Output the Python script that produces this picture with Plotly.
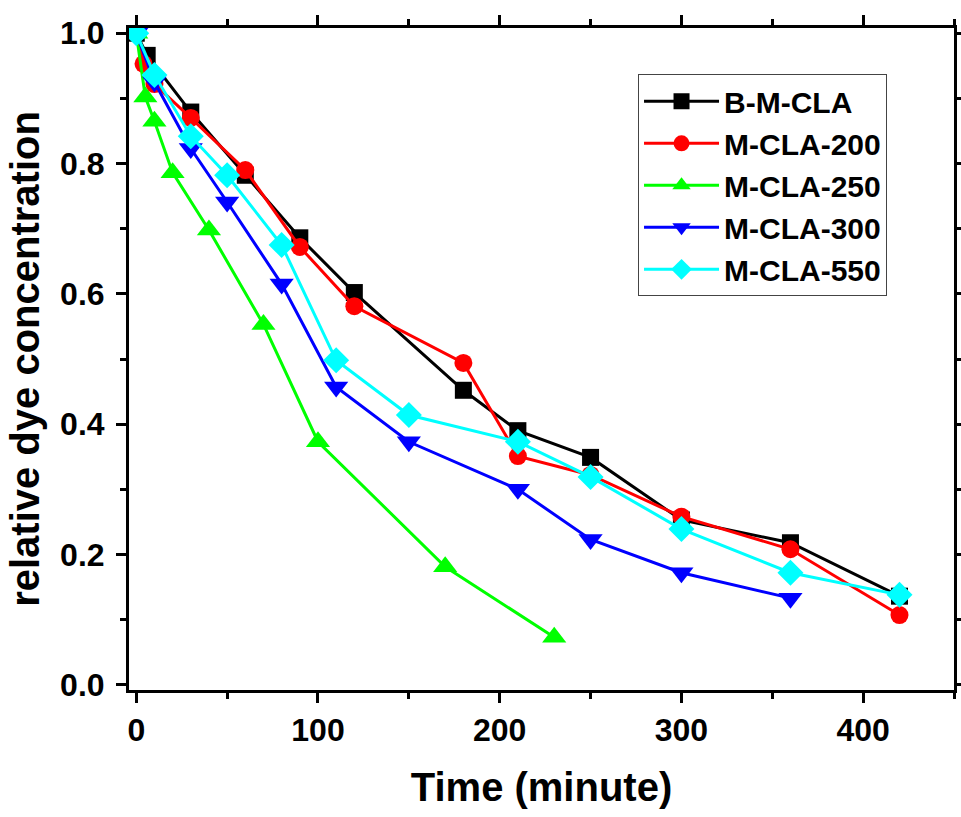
import plotly.graph_objects as go

# time (minute) and relative dye concentration
b_time = [0, 6, 30, 60, 90, 120, 180, 210, 250, 300, 360, 420]
b_conc = [1.0, 0.966, 0.879, 0.782, 0.686, 0.602, 0.452, 0.390, 0.349, 0.253, 0.218, 0.136]

m200_time = [0, 4, 10, 30, 60, 90, 120, 180, 210, 250, 300, 360, 420]
m200_conc = [1.0, 0.953, 0.922, 0.870, 0.790, 0.672, 0.581, 0.494, 0.351, 0.322, 0.258, 0.208, 0.107]

m250_time = [0, 5, 10, 20, 40, 70, 100, 170, 230]
m250_conc = [1.0, 0.902, 0.865, 0.786, 0.698, 0.553, 0.373, 0.181, 0.073]

m300_time = [0, 10, 30, 50, 80, 110, 150, 210, 250, 300, 360]
m300_conc = [1.0, 0.925, 0.823, 0.741, 0.615, 0.457, 0.373, 0.300, 0.223, 0.172, 0.133]

m550_time = [0, 10, 30, 50, 80, 110, 150, 210, 250, 300, 360, 420]
m550_conc = [1.0, 0.936, 0.842, 0.782, 0.675, 0.498, 0.414, 0.373, 0.319, 0.239, 0.172, 0.138]

series = [
    ("B-M-CLA", b_time, b_conc, "#000000", "square", 17),
    ("M-CLA-200", m200_time, m200_conc, "#ff0000", "circle", 18),
    ("M-CLA-250", m250_time, m250_conc, "#00ff00", "triangle-up", 21),
    ("M-CLA-300", m300_time, m300_conc, "#0000ff", "triangle-down", 21),
    ("M-CLA-550", m550_time, m550_conc, "#00ffff", "diamond", 20),
]

fig = go.Figure()
for name, t, c, color, symbol, size in series:
    fig.add_trace(go.Scatter(
        x=t, y=c, name=name, mode="lines+markers",
        line=dict(color=color, width=3),
        marker=dict(symbol=symbol, size=size, color=color, line=dict(width=0)),
    ))

FONT = "Arial, Liberation Sans, sans-serif"

axis_common = dict(
    showgrid=False, zeroline=False, automargin=False,
    showline=True, linecolor="black", linewidth=3,
    mirror="ticks", ticks="outside", ticklen=10, tickwidth=3, tickcolor="black",
    tickfont=dict(family=FONT, size=32, color="black", weight="bold"),
)

fig.update_xaxes(
    range=[-4, 450], tick0=0, dtick=100,
    minor=dict(dtick=50, ticks="outside", ticklen=6, tickwidth=3, tickcolor="black"),
    title=dict(text="Time (minute)", font=dict(family=FONT, size=40, color="black", weight="bold"),
               standoff=26),
    **axis_common,
)
fig.update_yaxes(
    range=[-0.008, 1.008], tick0=0, dtick=0.2, tickformat=".1f",
    minor=dict(dtick=0.1, ticks="outside", ticklen=6, tickwidth=3, tickcolor="black"),
    ticklabelstandoff=5,
    title=dict(text="relative dye concentration", font=dict(family=FONT, size=40, color="black", weight="bold"),
               standoff=9),
    **axis_common,
)

fig.update_layout(
    width=961, height=817,
    margin=dict(l=129, r=7, t=28, b=127),
    paper_bgcolor="white", plot_bgcolor="white",
    legend=dict(
        x=0.617, y=0.93, xanchor="left", yanchor="top",
        bordercolor="#444444", borderwidth=1, bgcolor="white",
        font=dict(family=FONT, size=30, color="black", weight="bold"),
        itemwidth=75, tracegroupgap=0,
    ),
    showlegend=True,
)

# drop the browser's default body margin so the figure sits at the page corner
fig.write_html("out.html", config={"displayModeBar": False},
               post_script="document.body.style.margin='0';")
